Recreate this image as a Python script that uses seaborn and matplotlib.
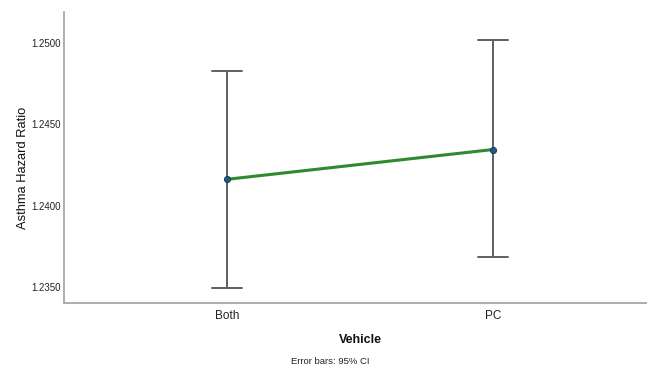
import matplotlib
matplotlib.use("Agg")
import matplotlib.pyplot as plt
import seaborn as sns
import pandas as pd

# Estimated asthma hazard ratios with 95% confidence limits per vehicle
vehicles = ["Both", "PC"]
hr_mean = [1.24162, 1.24345]
ci_lower = [1.23496, 1.23684]
ci_upper = [1.24828, 1.25017]

sns.set_style("white")
plt.rcParams["font.family"] = ["Liberation Sans", "DejaVu Sans"]

# Long table: lower / mean / upper per vehicle; median gives the mean,
# the full percentile range gives the CI limits.
rows = []
for v, lo, m, hi in zip(vehicles, ci_lower, hr_mean, ci_upper):
    for val in (lo, m, hi):
        rows.append({"Vehicle": v, "HR": val})
df = pd.DataFrame(rows)
means = pd.DataFrame({"Vehicle": vehicles, "HR": hr_mean})

fig = plt.figure(figsize=(6.47, 3.70), dpi=100)
ax = fig.add_axes([64 / 647, 1 - 303 / 370, 1 - 64 / 647, (303 - 12) / 370])

# error bars with caps
sns.pointplot(data=df, x="Vehicle", y="HR", order=vehicles,
              estimator="median", errorbar=("pi", 100),
              capsize=0.11, color="#5f5f5f", markers="", linestyles="none",
              err_kws={"linewidth": 1.4, "color": "#5f5f5f"}, ax=ax)

# mean line
sns.pointplot(data=means, x="Vehicle", y="HR", order=vehicles,
              errorbar=None, color="#2f8a2f", markers="",
              linewidth=2.2, ax=ax)

# mean markers
sns.pointplot(data=means, x="Vehicle", y="HR", order=vehicles,
              errorbar=None, color="#1e5a86", markers="o", linestyles="none",
              markersize=4.5, markeredgecolor="#16324a", markeredgewidth=0.6,
              ax=ax)
for coll in ax.collections:
    coll.set_zorder(5)
for ln in ax.lines[-1:]:
    ln.set_zorder(5)

ax.set_ylim(1.23402, 1.2519)
ax.set_xlim(-0.613, 1.579)
ax.set_yticks([1.2350, 1.2400, 1.2450, 1.2500])
ax.set_yticklabels(["1.2350", "1.2400", "1.2450", "1.2500"])
ax.tick_params(axis="both", length=0, colors="#222222")
ax.tick_params(axis="y", labelsize=7, pad=2)
ax.tick_params(axis="x", labelsize=8.5, pad=5)

for side in ("top", "right"):
    ax.spines[side].set_visible(False)
for side in ("left", "bottom"):
    ax.spines[side].set_color("#a0a0a0")
    ax.spines[side].set_linewidth(1.2)

ax.set_xlabel("")
ax.set_ylabel("")
fig.text(360 / 647, 1 - 340 / 370, "Vehicle", ha="center", va="center",
         fontsize=9, fontweight="bold", color="#111111")
fig.text(23 / 647, 1 - 168 / 370, "Asthma Hazard Ratio", ha="center", va="center",
         rotation=90, fontsize=9.3, color="#111111")
fig.text(330 / 647, 1 - 362 / 370, "Error bars: 95% CI", ha="center", va="center",
         fontsize=6.8, color="#222222")

fig.savefig("out.png", dpi=100)
